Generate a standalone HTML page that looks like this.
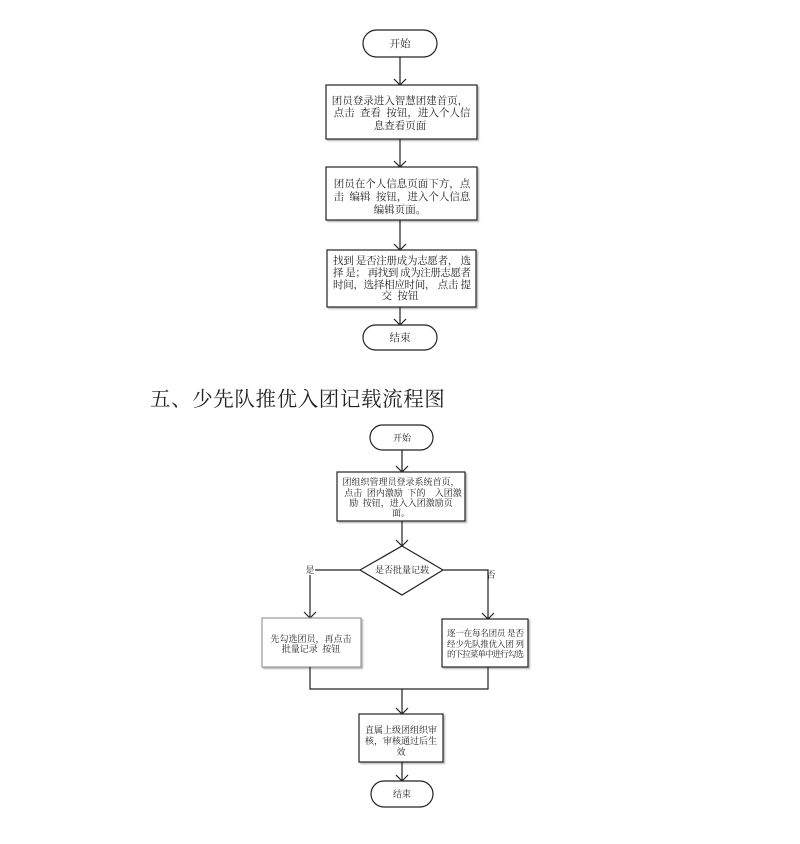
<!DOCTYPE html>
<html><head><meta charset="utf-8"><style>
html,body{margin:0;padding:0;background:#fff;}
svg{display:block;}
text{font-family:"Noto Serif CJK SC","Liberation Serif","Noto Sans CJK SC",serif;fill:#222;white-space:pre;}
</style></head><body>
<svg width="800" height="844" viewBox="0 0 800 844" xmlns="http://www.w3.org/2000/svg" xml:space="preserve">
<defs>
<filter id="sh" x="-10%" y="-10%" width="130%" height="130%"><feDropShadow dx="1.5" dy="1.5" stdDeviation="0.8" flood-color="#888" flood-opacity="0.6"/></filter>
</defs>
<g stroke="#222" stroke-width="1.2" fill="none">
<rect x="363" y="30" width="74" height="27" rx="13.5" fill="#fff"/>
<line x1="400" y1="57" x2="400" y2="85"/><polyline points="394,79 400,85 406,79"/>
<rect x="326" y="85" width="151" height="54" fill="#fff" filter="url(#sh)"/>
<line x1="400" y1="139" x2="400" y2="167"/><polyline points="394,161 400,167 406,161"/>
<rect x="326" y="167" width="151" height="53" fill="#fff" filter="url(#sh)"/>
<line x1="400" y1="220" x2="400" y2="250"/><polyline points="394,244 400,250 406,244"/>
<rect x="327" y="250" width="149" height="57" fill="#fff" filter="url(#sh)"/>
<line x1="400" y1="307" x2="400" y2="325"/><polyline points="394,319 400,325 406,319"/>
<rect x="363" y="325" width="74" height="25" rx="12.5" fill="#fff"/>
<rect x="370" y="425" width="63" height="25" rx="12.5" fill="#fff"/>
<line x1="402" y1="450" x2="402" y2="472"/><polyline points="396,466 402,472 408,466"/>
<rect x="337" y="472" width="128" height="49" fill="#fff" filter="url(#sh)"/>
<line x1="402" y1="521" x2="402" y2="546"/><polyline points="396,540 402,546 408,540"/>
<polygon points="402,546 443,570 402,595 360,570" fill="#fff"/>
<polyline points="360,570 315,570"/>
<line x1="310" y1="575" x2="310" y2="618"/><polyline points="304,612 310,618 316,612"/>
<polyline points="443,570 488,570 488,619"/><polyline points="482,613 488,619 494,613"/>
<rect x="262" y="618" width="99" height="49" fill="#fff" stroke="#999" filter="url(#sh)"/>
<rect x="442" y="619" width="86" height="48" fill="#fff" filter="url(#sh)"/>
<polyline points="310,667 310,689 488,689 488,667"/>
<line x1="402" y1="689" x2="402" y2="714"/><polyline points="396,708 402,714 408,708"/>
<rect x="359" y="714" width="84" height="48" fill="#fff" filter="url(#sh)"/>
<line x1="402" y1="762" x2="402" y2="781"/><polyline points="396,775 402,781 408,775"/>
<rect x="371" y="781" width="62" height="26" rx="13" fill="#fff"/>
</g>
<g font-size="10.5" text-anchor="middle">
<text x="400" y="47">开始</text>
<text x="400" y="104">团员登录进入智慧团建首页，</text>
<text x="402" y="116">点击  查看  按钮，进入个人信</text>
<text x="400" y="129">息查看页面</text>
<text x="402" y="187">团员在个人信息页面下方，点</text>
<text x="402" y="200">击  编辑  按钮，进入个人信息</text>
<text x="400" y="213">编辑页面。</text>
<text x="333" y="264" text-anchor="start" textLength="138" lengthAdjust="spacing">找到 是否注册成为志愿者， 选</text>
<text x="333" y="276" text-anchor="start" textLength="138" lengthAdjust="spacing">择 是； 再找到 成为注册志愿者</text>
<text x="333" y="288" text-anchor="start" textLength="138" lengthAdjust="spacing">时间，选择相应时间， 点击 提</text>
<text x="400" y="299">交  按钮</text>
<text x="400" y="341">结束</text>
</g>
<text x="150" y="406" font-size="20.5" letter-spacing="0.6">五、少先队推优入团记载流程图</text>
<g font-size="9" text-anchor="middle">
<text x="402" y="441">开始</text>
<text x="401" y="485">团组织管理员登录系统首页，</text>
<text x="403" y="496">点击  团内激励  下的    入团激</text>
<text x="401" y="506">励  按钮，进入入团激励页</text>
<text x="401" y="516">面。</text>
<text x="402" y="573">是否批量记载</text>
<text x="310" y="573">是</text>
<text x="491" y="578">否</text>
<text x="311" y="642">先勾选团员，再点击</text>
<text x="311" y="652">批量记录  按钮</text>
<g font-size="8.5" text-anchor="start">
<text x="447" y="636" textLength="77" lengthAdjust="spacing">逐一在每名团员 是否</text>
<text x="447" y="647" textLength="77" lengthAdjust="spacing">经少先队推优入团 列</text>
<text x="447" y="657" textLength="77" lengthAdjust="spacing">的下拉菜单中进行勾选</text>
</g>
<text x="401" y="733">直属上级团组织审</text>
<text x="401" y="744">核，审核通过后生</text>
<text x="401" y="755">效</text>
<text x="402" y="797">结束</text>
</g>
</svg>
</body></html>
